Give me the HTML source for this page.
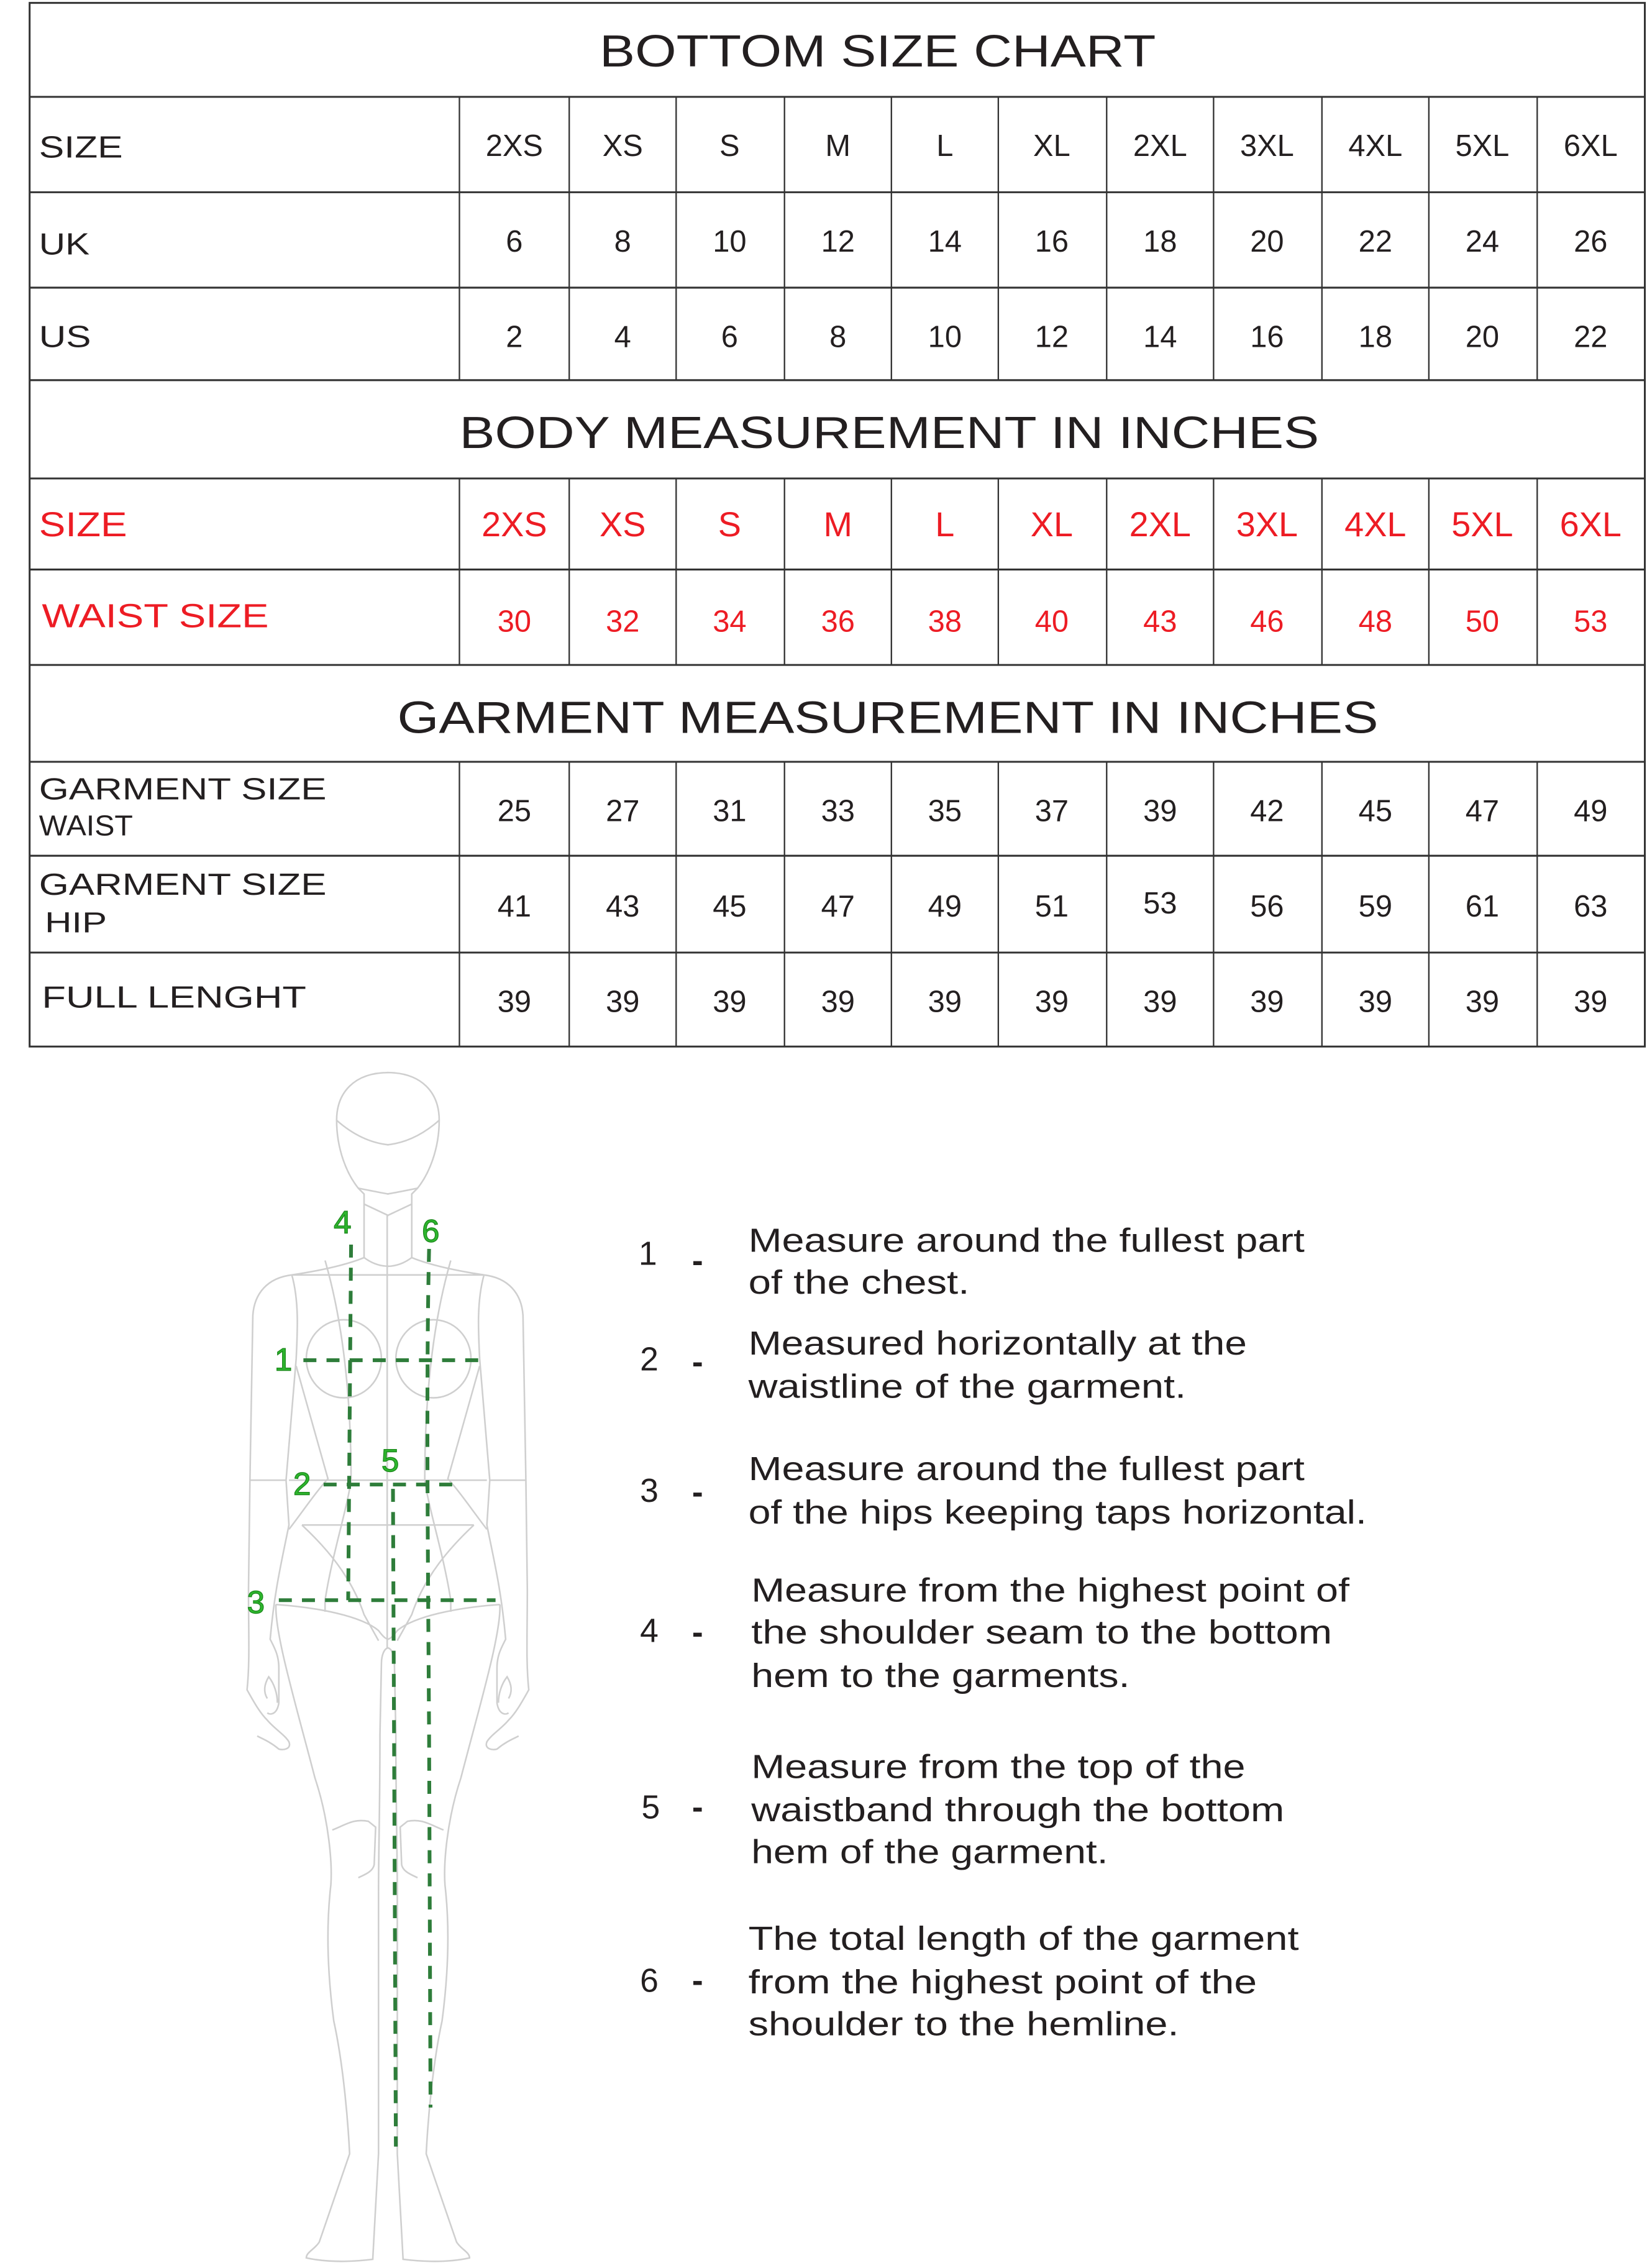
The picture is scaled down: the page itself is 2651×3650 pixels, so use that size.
<!DOCTYPE html>
<html><head><meta charset="utf-8"><style>
html,body{margin:0;padding:0;background:#fff;}
svg{display:block;}
text{font-family:"Liberation Sans",sans-serif;fill:#231f20;}
.t{font-size:31px;}
.l{font-size:21px;}
.v{font-size:21px;text-anchor:middle;}
.r{fill:#ed1c24;}
.rs{font-size:24px;}
.i{font-size:23px;}
.g{font-size:22px;fill:#2eb82e;stroke:#1e8a1e;stroke-width:0.6;}
.o{fill:none;stroke:#cfcfcf;stroke-width:1.1;}
.d{fill:none;stroke:#2e7d3a;stroke-width:2.6;stroke-dasharray:9 7;}
</style></head><body>
<svg width="2651" height="3650" viewBox="0 0 1140 1569" preserveAspectRatio="none" xmlns="http://www.w3.org/2000/svg">
<rect width="1140" height="1569" fill="#fff"/>
<g stroke="#333" stroke-width="1.3" fill="none">
<rect x="20.5" y="2" width="1118" height="722"/>
<line x1="20" y1="67" x2="1139" y2="67"/>
<line x1="20" y1="133" x2="1139" y2="133"/>
<line x1="20" y1="199" x2="1139" y2="199"/>
<line x1="20" y1="263" x2="1139" y2="263"/>
<line x1="20" y1="331" x2="1139" y2="331"/>
<line x1="20" y1="394" x2="1139" y2="394"/>
<line x1="20" y1="460" x2="1139" y2="460"/>
<line x1="20" y1="527" x2="1139" y2="527"/>
<line x1="20" y1="592" x2="1139" y2="592"/>
<line x1="20" y1="659" x2="1139" y2="659"/>
</g>
<g stroke="#333" stroke-width="1">
<path d="M318,67V263M394,67V263M468,67V263M543,67V263M617,67V263M691,67V263M766,67V263M840,67V263M915,67V263M989,67V263M1064,67V263"/>
<path d="M318,331V460M394,331V460M468,331V460M543,331V460M617,331V460M691,331V460M766,331V460M840,331V460M915,331V460M989,331V460M1064,331V460"/>
<path d="M318,527V724M394,527V724M468,527V724M543,527V724M617,527V724M691,527V724M766,527V724M840,527V724M915,527V724M989,527V724M1064,527V724"/>
</g>

<text class="t" x="415" y="46" textLength="385" lengthAdjust="spacingAndGlyphs">BOTTOM SIZE CHART</text>
<text class="t" x="318" y="310" textLength="595" lengthAdjust="spacingAndGlyphs">BODY MEASUREMENT IN INCHES</text>
<text class="t" x="275" y="507" textLength="679" lengthAdjust="spacingAndGlyphs">GARMENT MEASUREMENT IN INCHES</text>

<text class="l" x="27" y="109" textLength="58" lengthAdjust="spacingAndGlyphs">SIZE</text>
<text class="l" x="27" y="176" textLength="35" lengthAdjust="spacingAndGlyphs">UK</text>
<text class="l" x="27" y="240" textLength="36" lengthAdjust="spacingAndGlyphs">US</text>
<text class="l r" x="27" y="371" style="font-size:24px" textLength="61" lengthAdjust="spacingAndGlyphs">SIZE</text>
<text class="l r" x="29" y="434" style="font-size:23px" textLength="157" lengthAdjust="spacingAndGlyphs">WAIST SIZE</text>
<text class="l" x="27" y="553" textLength="199" lengthAdjust="spacingAndGlyphs">GARMENT SIZE</text>
<text class="l" x="27" y="578" style="font-size:20px" textLength="65" lengthAdjust="spacingAndGlyphs">WAIST</text>
<text class="l" x="27" y="619" textLength="199" lengthAdjust="spacingAndGlyphs">GARMENT SIZE</text>
<text class="l" x="31" y="645" style="font-size:20px" textLength="43" lengthAdjust="spacingAndGlyphs">HIP</text>
<text class="l" x="29" y="697" textLength="183" lengthAdjust="spacingAndGlyphs">FULL LENGHT</text>

<text class="v" x="356" y="108">2XS</text><text class="v" x="431" y="108">XS</text><text class="v" x="505" y="108">S</text><text class="v" x="580" y="108">M</text><text class="v" x="654" y="108">L</text><text class="v" x="728" y="108">XL</text><text class="v" x="803" y="108">2XL</text><text class="v" x="877" y="108">3XL</text><text class="v" x="952" y="108">4XL</text><text class="v" x="1026" y="108">5XL</text><text class="v" x="1101" y="108">6XL</text>
<text class="v" x="356" y="174">6</text><text class="v" x="431" y="174">8</text><text class="v" x="505" y="174">10</text><text class="v" x="580" y="174">12</text><text class="v" x="654" y="174">14</text><text class="v" x="728" y="174">16</text><text class="v" x="803" y="174">18</text><text class="v" x="877" y="174">20</text><text class="v" x="952" y="174">22</text><text class="v" x="1026" y="174">24</text><text class="v" x="1101" y="174">26</text>
<text class="v" x="356" y="240">2</text><text class="v" x="431" y="240">4</text><text class="v" x="505" y="240">6</text><text class="v" x="580" y="240">8</text><text class="v" x="654" y="240">10</text><text class="v" x="728" y="240">12</text><text class="v" x="803" y="240">14</text><text class="v" x="877" y="240">16</text><text class="v" x="952" y="240">18</text><text class="v" x="1026" y="240">20</text><text class="v" x="1101" y="240">22</text>
<text class="v r rs" x="356" y="371">2XS</text><text class="v r rs" x="431" y="371">XS</text><text class="v r rs" x="505" y="371">S</text><text class="v r rs" x="580" y="371">M</text><text class="v r rs" x="654" y="371">L</text><text class="v r rs" x="728" y="371">XL</text><text class="v r rs" x="803" y="371">2XL</text><text class="v r rs" x="877" y="371">3XL</text><text class="v r rs" x="952" y="371">4XL</text><text class="v r rs" x="1026" y="371">5XL</text><text class="v r rs" x="1101" y="371">6XL</text>
<text class="v r" x="356" y="437">30</text><text class="v r" x="431" y="437">32</text><text class="v r" x="505" y="437">34</text><text class="v r" x="580" y="437">36</text><text class="v r" x="654" y="437">38</text><text class="v r" x="728" y="437">40</text><text class="v r" x="803" y="437">43</text><text class="v r" x="877" y="437">46</text><text class="v r" x="952" y="437">48</text><text class="v r" x="1026" y="437">50</text><text class="v r" x="1101" y="437">53</text>
<text class="v" x="356" y="568">25</text><text class="v" x="431" y="568">27</text><text class="v" x="505" y="568">31</text><text class="v" x="580" y="568">33</text><text class="v" x="654" y="568">35</text><text class="v" x="728" y="568">37</text><text class="v" x="803" y="568">39</text><text class="v" x="877" y="568">42</text><text class="v" x="952" y="568">45</text><text class="v" x="1026" y="568">47</text><text class="v" x="1101" y="568">49</text>
<text class="v" x="356" y="634">41</text><text class="v" x="431" y="634">43</text><text class="v" x="505" y="634">45</text><text class="v" x="580" y="634">47</text><text class="v" x="654" y="634">49</text><text class="v" x="728" y="634">51</text><text class="v" x="803" y="632">53</text><text class="v" x="877" y="634">56</text><text class="v" x="952" y="634">59</text><text class="v" x="1026" y="634">61</text><text class="v" x="1101" y="634">63</text>
<text class="v" x="356" y="700">39</text><text class="v" x="431" y="700">39</text><text class="v" x="505" y="700">39</text><text class="v" x="580" y="700">39</text><text class="v" x="654" y="700">39</text><text class="v" x="728" y="700">39</text><text class="v" x="803" y="700">39</text><text class="v" x="877" y="700">39</text><text class="v" x="952" y="700">39</text><text class="v" x="1026" y="700">39</text><text class="v" x="1101" y="700">39</text>

<!-- figure -->
<g id="half" class="o">
<path d="M269,742 C245,742 233,756 233,775 C233,795 240,812 248,822 L252,826 L252,870 Q235,877 202,882"/>
<path d="M233,775 Q250,790 269,792"/>
<path d="M248,822 Q268,826 269,826"/>
<path d="M252,833 L269,841"/>
<path d="M252,870 Q260,876 269,876"/>
<path d="M202,882 L269,882"/>
<path d="M202,882 C185,884 176,895 175,910 L173,1024 L172,1100 C172,1130 173,1150 171,1169 C176,1178 180,1185 185,1190 C190,1196 197,1200 200,1205 C202,1210 196,1211 193,1210 C187,1205 182,1203 178,1201"/>
<path d="M185,1175 C182,1170 183,1165 186,1160 C190,1165 192,1172 192,1178"/>
<path d="M202,882 C207,900 206,920 205,940 L198,1024 L200,1055 C195,1080 190,1100 187,1134 C190,1140 193,1145 193,1154 L193,1178 C192,1185 188,1187 185,1185"/>
<path d="M173,1024 L198,1024"/>
<path d="M200,1024 L269,1024"/>
<path d="M209,1055 L269,1055"/>
<path d="M225,872 C236,910 243,960 243,1024 C240,1045 230,1075 225,1107 L225,1115"/>
<path d="M205,945 L227,1023 C218,1033 210,1045 200,1058"/>
<path d="M209,1055 C225,1070 243,1090 252,1117 L262,1135"/>
<path d="M191,1110 C220,1112 250,1118 262,1128 C265,1132 267,1134 269,1134"/>
<path d="M191,1110 C190,1130 205,1180 218,1230 C228,1260 230,1290 229,1304 C226,1330 226,1360 231,1398 C238,1430 241,1470 242,1490 L221,1551 C218,1556 212,1558 212,1562 C230,1566 250,1564 258,1563 L262,1490 L262,1309 C262,1280 263,1250 263,1200 L264,1151 C264,1145 266,1140 269,1140"/>
<path d="M230,1266 C240,1262 245,1258 255,1260 L260,1264 L259,1290 C258,1295 252,1297 248,1299"/>
</g>
<use href="#half" transform="translate(537,0) scale(-1,1)"/>
<line class="o" x1="268" y1="841" x2="268" y2="1140"/>
<ellipse class="o" cx="238" cy="940" rx="26" ry="27"/>
<ellipse class="o" cx="300" cy="940" rx="26" ry="27"/>

<path class="d" d="M210,941H333"/>
<path class="d" d="M224,1027H316"/>
<path class="d" d="M193,1107H343"/>
<path class="d" d="M243,861 L241,1107"/>
<path class="d" d="M297,864 C295,950 296,1050 297,1200 L298,1458"/>
<path class="d" d="M272,1030 L274,1485"/>
<text class="g" x="231" y="853">4</text>
<text class="g" x="292" y="859">6</text>
<text class="g" x="190" y="948">1</text>
<text class="g" x="203" y="1034">2</text>
<text class="g" x="264" y="1018">5</text>
<text class="g" x="171" y="1116">3</text>

<!-- instructions -->
<text class="i" x="442" y="875">1</text><text class="i" x="479" y="880" font-weight="bold">-</text>
<text class="i" x="518" y="866" textLength="385" lengthAdjust="spacingAndGlyphs">Measure around the fullest part</text>
<text class="i" x="518" y="895" textLength="153" lengthAdjust="spacingAndGlyphs">of the chest.</text>
<text class="i" x="443" y="948">2</text><text class="i" x="479" y="950" font-weight="bold">-</text>
<text class="i" x="518" y="937" textLength="345" lengthAdjust="spacingAndGlyphs">Measured horizontally at the</text>
<text class="i" x="518" y="967" textLength="303" lengthAdjust="spacingAndGlyphs">waistline of the garment.</text>
<text class="i" x="443" y="1039">3</text><text class="i" x="479" y="1040" font-weight="bold">-</text>
<text class="i" x="518" y="1024" textLength="385" lengthAdjust="spacingAndGlyphs">Measure around the fullest part</text>
<text class="i" x="518" y="1054" textLength="428" lengthAdjust="spacingAndGlyphs">of the hips keeping taps horizontal.</text>
<text class="i" x="443" y="1136">4</text><text class="i" x="479" y="1137" font-weight="bold">-</text>
<text class="i" x="520" y="1108" textLength="414" lengthAdjust="spacingAndGlyphs">Measure from the highest point of</text>
<text class="i" x="520" y="1137" textLength="402" lengthAdjust="spacingAndGlyphs">the shoulder seam to the bottom</text>
<text class="i" x="520" y="1167" textLength="262" lengthAdjust="spacingAndGlyphs">hem to the garments.</text>
<text class="i" x="444" y="1258">5</text><text class="i" x="479" y="1258" font-weight="bold">-</text>
<text class="i" x="520" y="1230" textLength="342" lengthAdjust="spacingAndGlyphs">Measure from the top of the</text>
<text class="i" x="520" y="1260" textLength="369" lengthAdjust="spacingAndGlyphs">waistband through the bottom</text>
<text class="i" x="520" y="1289" textLength="247" lengthAdjust="spacingAndGlyphs">hem of the garment.</text>
<text class="i" x="443" y="1378">6</text><text class="i" x="479" y="1378" font-weight="bold">-</text>
<text class="i" x="518" y="1349" textLength="381" lengthAdjust="spacingAndGlyphs">The total length of the garment</text>
<text class="i" x="518" y="1379" textLength="352" lengthAdjust="spacingAndGlyphs">from the highest point of the</text>
<text class="i" x="518" y="1408" textLength="298" lengthAdjust="spacingAndGlyphs">shoulder to the hemline.</text>
</svg>
</body></html>
